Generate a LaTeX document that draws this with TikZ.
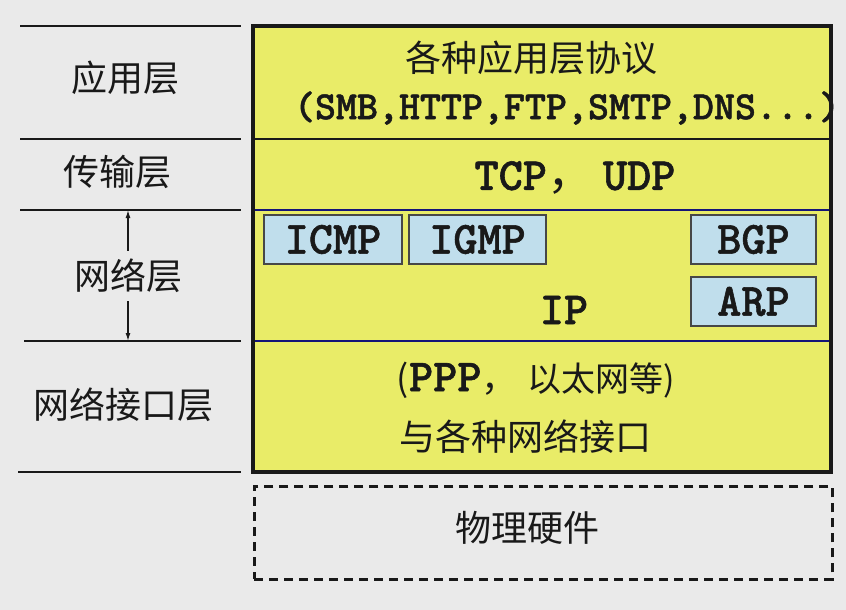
\documentclass[tikz,border=0pt]{standalone}
\usepackage{fontspec}
\setmainfont{Noto Sans CJK SC}
\newfontfamily\cjk{Noto Sans CJK SC}
\newfontfamily\monob{lmmonolt10-bold.otf}[FakeBold=1.2]
\usetikzlibrary{arrows.meta}
\definecolor{bg}{RGB}{234,234,234}
\definecolor{ylw}{RGB}{233,236,104}
\definecolor{lblue}{RGB}{192,222,236}
\definecolor{navyline}{RGB}{20,20,120}
\definecolor{ink}{RGB}{25,25,25}
\newcommand{\mono}{\monob}
\tikzset{
  layerbox/.style={fill=ylw, draw=none, anchor=north west, minimum width=578pt, inner sep=0pt},
  protobox/.style={fill=lblue, draw=ink!80, line width=1.2pt, minimum height=49pt, inner sep=0pt,
     font=\mono\fontsize{46}{48}\selectfont, text=ink},
  cn/.style={font=\cjk\fontsize{36}{40}\selectfont, text=ink, inner sep=2pt},
  mn/.style={font=\mono\fontsize{40}{42}\selectfont, text=ink, inner sep=0pt},
  sideline/.style={line width=2.5pt, draw=ink},
  sep/.style={line width=2pt},
  arr/.style={-{Latex[length=8pt,width=5pt]}, line width=1.3pt, draw=ink}
}
\begin{document}
\begin{tikzpicture}[x=1pt,y=-1pt]
\fill[bg] (0,0) rectangle (846,610);
\useasboundingbox (0,0) rectangle (846,610);

% layers
\node[layerbox, minimum height=113pt] (app) at (253,26) {};
\node[layerbox, minimum height=71pt] (tra) at (253,139) {};
\node[layerbox, minimum height=131pt] (net) at (253,210) {};
\node[layerbox, minimum height=131pt] (nif) at (253,341) {};
\draw[sep, draw=ink] (app.south west) -- (app.south east);
\draw[sep, draw=navyline] (tra.south west) -- (tra.south east);
\draw[sep, draw=navyline] (net.south west) -- (net.south east);
\draw[line width=4pt, draw=ink] (app.north west) rectangle (nif.south east);

% texts in layers
\node[cn] (apptitle) at (531,58) {各种应用层协议};
\node[mn] (appproto) at (567,108) {(SMB,HTTP,FTP,SMTP,DNS...)};
\node[font=\mono\fontsize{46}{48}\selectfont, text=ink, inner sep=0pt] (tcp) at (575,178) {TCP{\cjk ，}\hspace{10pt}UDP};
\node[protobox, minimum width=138pt] (icmp) at (333,239.5) {ICMP};
\node[protobox, minimum width=137pt] (igmp) at (477.5,239.5) {IGMP};
\node[protobox, minimum width=125pt] (bgp) at (753.5,239.5) {BGP};
\node[protobox, minimum width=125pt] (arp) at (753.5,301.5) {ARP};
\node[font=\mono\fontsize{46}{48}\selectfont, text=ink, inner sep=0pt] (ip) at (564,310) {IP};
\node[text=ink, inner sep=0pt] (ppp) at (536,380) {{\cjk\fontsize{36}{40}\selectfont (}{\mono\fontsize{46}{48}\selectfont PPP}{\cjk\fontsize{36}{40}\selectfont ，}\hspace{10pt}{\cjk\fontsize{34}{40}\selectfont 以太网等)}};
\node[cn] (ifc) at (525,437) {与各种网络接口};

% physical hardware
\node[draw=ink, dashed, dash pattern=on 9pt off 6pt, line width=2.5pt, anchor=north west,
      minimum width=578pt, minimum height=93pt, inner sep=0pt] (phy) at (253,485) {};
\node[cn] (phytext) at (527,528) {物理硬件};

% left side
\coordinate (l0a) at (20,26);  \coordinate (l0b) at (241,26);
\coordinate (l1a) at (20,139); \coordinate (l1b) at (241,139);
\coordinate (l2a) at (20,210); \coordinate (l2b) at (241,210);
\coordinate (l3a) at (24,341); \coordinate (l3b) at (241,341);
\coordinate (l4a) at (18,472); \coordinate (l4b) at (241,472);
\foreach \a/\b in {l0a/l0b,l1a/l1b,l2a/l2b,l3a/l3b,l4a/l4b} \draw[sideline] (\a) -- (\b);

\node[cn] (lapp) at (125,78) {应用层};
\node[cn] (ltra) at (117,172) {传输层};
\node[cn, inner sep=8pt] (lnet) at (128,276) {网络层};
\node[cn] (lnif) at (123,405) {网络接口层};
\coordinate (upend) at (128,210);
\coordinate (downend) at (128,341);
\draw[arr] (lnet.north) -- (upend);
\draw[arr] (lnet.south) -- (downend);
\end{tikzpicture}
\end{document}
